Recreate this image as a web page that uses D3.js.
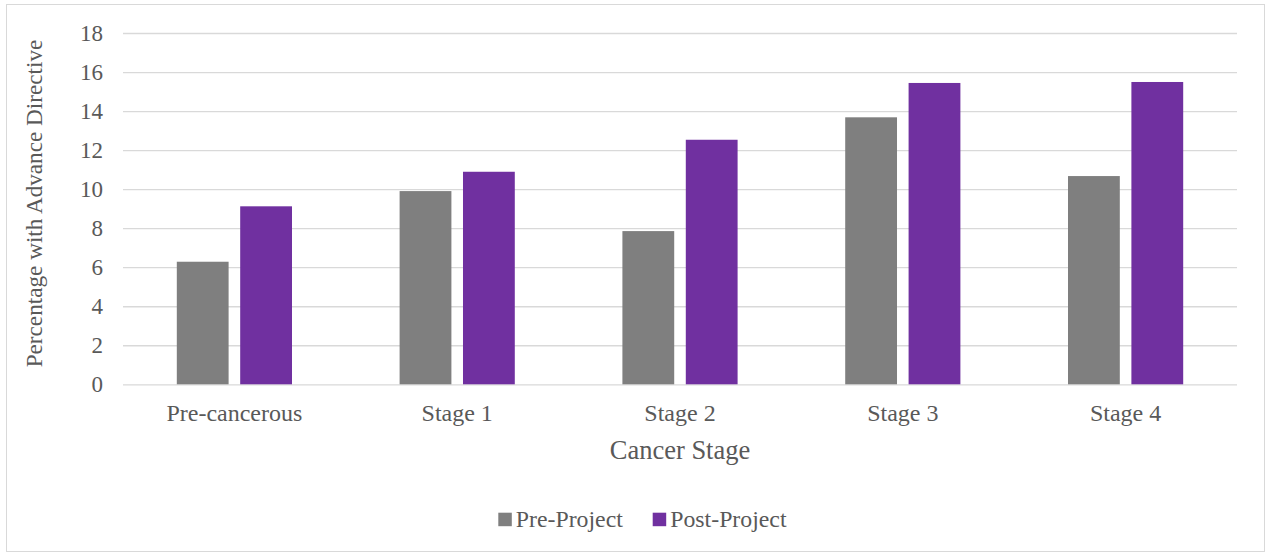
<!DOCTYPE html>
<html>
<head>
<meta charset="utf-8">
<script src="https://cdn.jsdelivr.net/npm/d3@7"></script>
<style>
  html, body { margin: 0; padding: 0; background: #fff; }
  svg { display: block; }
  text { font-family: "Liberation Serif", "Times New Roman", serif; fill: #595959; }
</style>
</head>
<body>
<svg id="chart" width="1266" height="554"></svg>
<script>
// Share of patients with an advance directive, by cancer stage
const categories = ["Pre-cancerous", "Stage 1", "Stage 2", "Stage 3", "Stage 4"];
const seriesNames = ["Pre-Project", "Post-Project"];
const preProject = [6.28, 9.9, 7.85, 13.68, 10.67];
const postProject = [9.12, 10.89, 12.53, 15.44, 15.49];
const yTicks = [0, 2, 4, 6, 8, 10, 12, 14, 16, 18];
const colors = ["#7f7f7f", "#7030a0"];

const svg = d3.select("#chart");
const W = 1266, H = 554;
const plot = { left: 123, right: 1237, top: 33, bottom: 384.3 };
const serif = "Liberation Serif, Times New Roman, serif";

// outer frame
svg.append("rect")
  .attr("x", 6.5).attr("y", 4.5)
  .attr("width", W - 8).attr("height", H - 7)
  .attr("fill", "#fff").attr("stroke", "#d9d9d9").attr("stroke-width", 1);

const x = d3.scaleBand().domain(categories).range([plot.left, plot.right]).paddingInner(0).paddingOuter(0);
const y = d3.scaleLinear().domain([0, 18]).range([plot.bottom, plot.top]);

// two bars per category, each ~23% of the band, separated by a small gap
const barW = x.bandwidth() * 0.2325;
const gap = x.bandwidth() * 0.052;
const groupW = barW * 2 + gap;

// gridlines
const grid = d3.axisLeft(y).tickValues(yTicks).tickSize(-(plot.right - plot.left)).tickFormat("");
svg.append("g").attr("transform", `translate(${plot.left},0)`).call(grid)
  .call(g => g.select(".domain").remove())
  .call(g => g.selectAll("line").attr("stroke", "#d9d9d9").attr("stroke-width", 1.3));

// y tick labels
const yAxis = d3.axisLeft(y).tickValues(yTicks).tickSize(0).tickPadding(20).tickFormat(d3.format("d"));
svg.append("g").attr("transform", `translate(${plot.left},0)`).call(yAxis)
  .call(g => g.select(".domain").remove())
  .call(g => g.selectAll("text").attr("font-size", 23).attr("fill", "#595959")
    .attr("font-family", serif));

// bars
const data = categories.map((c, i) => ({ cat: c, values: [preProject[i], postProject[i]] }));
const groups = svg.append("g").selectAll("g").data(data).join("g")
  .attr("transform", d => `translate(${x(d.cat) + (x.bandwidth() - groupW) / 2},0)`);
groups.selectAll("rect").data(d => d.values.map((v, j) => ({ v, s: seriesNames[j], j })))
  .join("rect")
  .attr("x", d => d.j * (barW + gap))
  .attr("width", barW)
  .attr("y", d => y(d.v))
  .attr("height", d => y(0) - y(d.v))
  .attr("fill", d => colors[d.j]);

// x axis labels
const xAxis = d3.axisBottom(x).tickSize(0).tickPadding(20);
svg.append("g").attr("transform", `translate(0,${plot.bottom})`).call(xAxis)
  .call(g => g.select(".domain").remove())
  .call(g => g.selectAll("text").attr("font-size", 24).attr("fill", "#595959")
    .attr("font-family", serif));

// axis titles
svg.append("text")
  .attr("x", (plot.left + plot.right) / 2).attr("y", 459.3)
  .attr("text-anchor", "middle").attr("font-size", 26.5)
  .text("Cancer Stage");

svg.append("text")
  .attr("transform", "translate(42,203.5) rotate(-90)")
  .attr("text-anchor", "middle").attr("font-size", 23.2)
  .text("Percentage with Advance Directive");

// legend
const legendX = [498.3, 652.7];
const legend = svg.append("g").attr("transform", "translate(0,512.7)");
const legendItems = legend.selectAll("g").data(seriesNames).join("g")
  .attr("transform", (d, i) => `translate(${legendX[i]},0)`);
legendItems.append("rect").attr("width", 13.5).attr("height", 13.5)
  .attr("fill", (d, i) => colors[i]);
legendItems.append("text").attr("x", 17.5).attr("y", 14)
  .attr("font-size", 23.8).text(d => d);
</script>
</body>
</html>
